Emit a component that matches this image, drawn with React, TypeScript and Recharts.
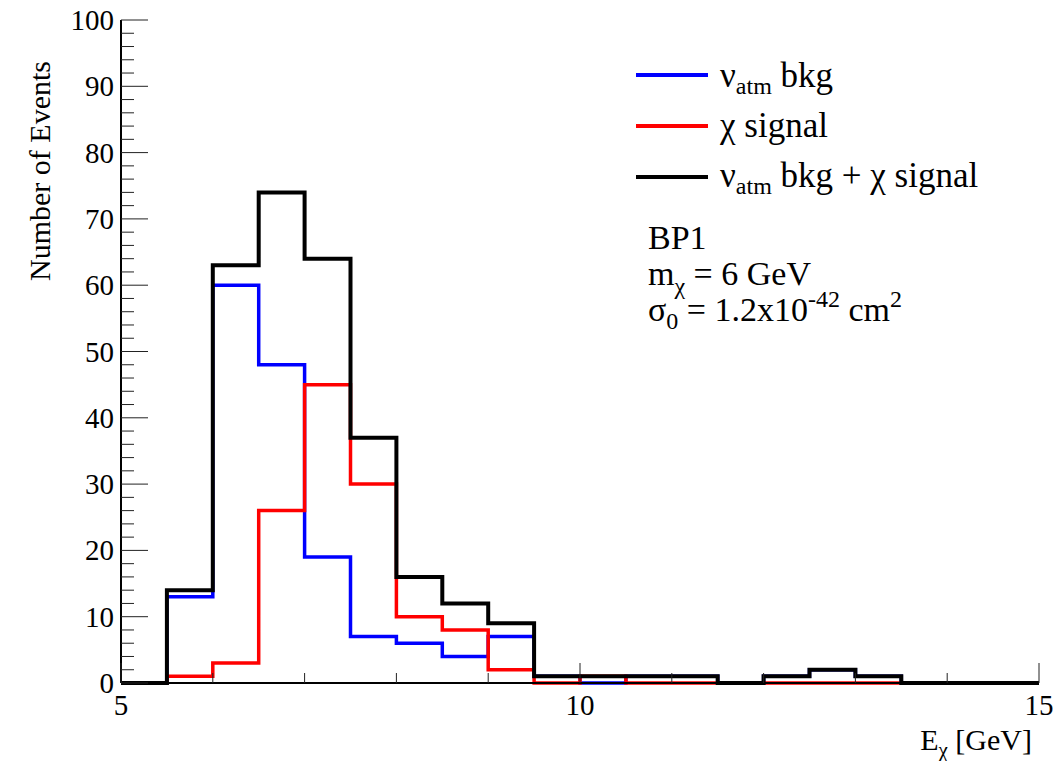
import React from 'react';
import { LineChart, Line, XAxis, YAxis } from 'recharts';

// Histogram bin low edges (GeV); bin width 0.5, last entry is the upper edge
const binEdges = [5, 5.5, 6, 6.5, 7, 7.5, 8, 8.5, 9, 9.5, 10, 10.5, 11, 11.5, 12, 12.5, 13, 13.5, 14, 14.5, 15];
const bkgCounts = [0, 13, 60, 48, 19, 7, 6, 4, 7, 1, 0, 1, 1, 0, 1, 2, 1, 0, 0, 0];
const signalCounts = [0, 1, 3, 26, 45, 30, 10, 8, 2, 0, 1, 0, 0, 0, 0, 0, 0, 0, 0, 0];
const totalCounts = [0, 14, 63, 74, 64, 37, 16, 12, 9, 1, 1, 1, 1, 0, 1, 2, 1, 0, 0, 0];

const xTicks = [5, 6, 7, 8, 9, 10, 11, 12, 13, 14, 15];
const xLabels = [5, 10, 15];
const yTicks = [0, 2, 4, 6, 8, 10, 12, 14, 16, 18, 20, 22, 24, 26, 28, 30, 32, 34, 36, 38, 40, 42, 44, 46, 48, 50,
  52, 54, 56, 58, 60, 62, 64, 66, 68, 70, 72, 74, 76, 78, 80, 82, 84, 86, 88, 90, 92, 94, 96, 98, 100];

const FONT = '"Liberation Serif", "Times New Roman", serif';
const txt = { fontFamily: FONT };

// step data: each edge carries the content of the bin that starts there
const chartData = binEdges.map((e, i) => {
  const k = Math.min(i, bkgCounts.length - 1);
  return { e, bkg: bkgCounts[k], sig: signalCounts[k], tot: totalCounts[k] };
});

/** ROOT-style inward ticks on the left axis, with labels every 10 */
function LeftTick({ x, y, payload }: any) {
  const major = payload.value % 10 === 0;
  return (
    <g>
      <line x1={x} y1={y} x2={x + (major ? 27 : 13)} y2={y} stroke="#222" strokeWidth={1} />
      {major && (
        <text x={x - 7} y={y + 10} textAnchor="end" fontSize={29} style={txt} fill="#000">
          {payload.value}
        </text>
      )}
    </g>
  );
}

function RightTick({ x, y, payload }: any) {
  const major = payload.value % 10 === 0;
  return <line x1={x} y1={y} x2={x - (major ? 27 : 13)} y2={y} stroke="#222" strokeWidth={1} />;
}

function BottomTick({ x, y, payload }: any) {
  const major = payload.value % 5 === 0;
  return (
    <g>
      <line x1={x} y1={y} x2={x} y2={y - (major ? 20 : 10)} stroke="#222" strokeWidth={1} />
      {xLabels.includes(payload.value) && (
        <text x={x} y={y + 32} textAnchor="middle" fontSize={29} style={txt} fill="#000">
          {payload.value}
        </text>
      )}
    </g>
  );
}

function TopTick({ x, y, payload }: any) {
  const major = payload.value % 5 === 0;
  return <line x1={x} y1={y} x2={x} y2={y + (major ? 20 : 10)} stroke="#222" strokeWidth={1} />;
}

const legendRows = [
  { color: '#0000ff', y: 75 },
  { color: '#ff0000', y: 126 },
  { color: '#000000', y: 177 },
];

export default function App() {
  return (
    <div style={{ position: 'relative', width: 1056, height: 761, background: '#fff' }}>
      <style>{'body{margin:0}'}</style>
      <LineChart width={1056} height={761} data={chartData} margin={{ top: 20, right: 17, bottom: 0, left: 0 }}>
        <XAxis
          dataKey="e"
          type="number"
          domain={[5, 15]}
          ticks={xTicks}
          height={78}
          tickSize={0}
          tickMargin={0}
          tick={<BottomTick />}
          tickLine={false}
          axisLine={{ stroke: '#000', strokeWidth: 2 }}
          interval={0}
        />
        <XAxis
          xAxisId="top"
          orientation="top"
          dataKey="e"
          type="number"
          domain={[5, 15]}
          ticks={xTicks}
          height={0}
          tickSize={0}
          tickMargin={0}
          tick={<TopTick />}
          tickLine={false}
          axisLine={{ stroke: '#000', strokeWidth: 2 }}
          interval={0}
        />
        <YAxis
          type="number"
          domain={[0, 100]}
          ticks={yTicks}
          width={121}
          tickSize={0}
          tickMargin={0}
          tick={<LeftTick />}
          tickLine={false}
          axisLine={{ stroke: '#000', strokeWidth: 2 }}
          interval={0}
        />
        <YAxis
          yAxisId="right"
          orientation="right"
          type="number"
          domain={[0, 100]}
          ticks={yTicks}
          width={0}
          tickSize={0}
          tickMargin={0}
          tick={<RightTick />}
          tickLine={false}
          axisLine={{ stroke: '#000', strokeWidth: 2 }}
          interval={0}
        />
        <Line type="stepAfter" dataKey="bkg" stroke="#0000ff" strokeWidth={3.5} dot={false} isAnimationActive={false} />
        <Line type="stepAfter" dataKey="sig" stroke="#ff0000" strokeWidth={3.5} dot={false} isAnimationActive={false} />
        <Line type="stepAfter" dataKey="tot" stroke="#000000" strokeWidth={4} dot={false} isAnimationActive={false} />
      </LineChart>

      {/* legend, annotation and axis titles */}
      <svg
        width={1056}
        height={761}
        style={{ position: 'absolute', left: 0, top: 0, pointerEvents: 'none' }}
        fill="#000"
      >
        {legendRows.map((r) => (
          <line key={r.y} x1={636} x2={708} y1={r.y} y2={r.y} stroke={r.color} strokeWidth={4} />
        ))}
        <text x={720} y={87} fontSize={35} style={txt}>
          ν<tspan fontSize={24} dy={7}>atm</tspan>
          <tspan dy={-7}> bkg</tspan>
        </text>
        <text x={720} y={137} fontSize={35} style={txt}>
          χ signal
        </text>
        <text x={720} y={187} fontSize={35} style={txt}>
          ν<tspan fontSize={24} dy={7}>atm</tspan>
          <tspan dy={-7}> bkg + χ signal</tspan>
        </text>

        <text x={648} y={249} fontSize={34} style={txt}>
          BP1
        </text>
        <text x={648} y={285} fontSize={34} style={txt}>
          m<tspan fontSize={24} dy={9}>χ</tspan>
          <tspan dy={-9}> = 6 GeV</tspan>
        </text>
        <text x={648} y={321} fontSize={34} style={txt}>
          σ<tspan fontSize={24} dy={8}>0</tspan>
          <tspan dy={-8}> = 1.2x10</tspan>
          <tspan fontSize={24} dy={-14}>-42</tspan>
          <tspan dy={14}> cm</tspan>
          <tspan fontSize={24} dy={-14}>2</tspan>
        </text>

        <text x={1032} y={750} fontSize={30} textAnchor="end" style={txt}>
          E<tspan fontSize={21} dy={7}>χ</tspan>
          <tspan dy={-7}> [GeV]</tspan>
        </text>
        <text x={50} y={61} fontSize={30} textAnchor="end" transform="rotate(-90, 50, 61)" style={txt}>
          Number of Events
        </text>
      </svg>
    </div>
  );
}
